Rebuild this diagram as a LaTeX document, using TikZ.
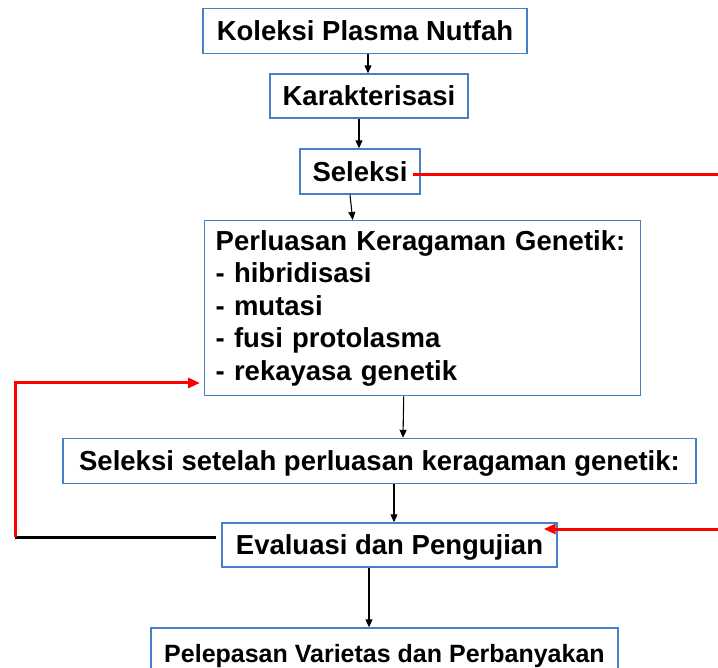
\documentclass[tikz,border=0pt]{standalone}
\usepackage{fontspec}
\setmainfont{Liberation Sans}
\usetikzlibrary{arrows.meta,calc}
\definecolor{boxblue}{RGB}{70,128,200}
\definecolor{flowred}{RGB}{255,0,0}
\begin{document}
\begin{tikzpicture}[x=1pt,y=-1pt,
  stepbox/.style={draw=boxblue, line width=1.4pt, fill=white, inner sep=0pt,
    font=\fontsize{27.5}{32.5}\selectfont\bfseries},
  oneline/.style={stepbox, text height=19.7pt, text depth=0pt},
  arr/.style={draw=black, line width=1.1pt, -{Triangle[length=8pt,width=7pt]}},
  redline/.style={draw=flowred, line width=3pt},
  redarr/.style={redline, -{Triangle[length=12pt,width=10pt]}},
  blackline/.style={draw=black, line width=3pt}]
\clip (0,0) rectangle (718,668);
\fill[white] (0,0) rectangle (718,668);

% process boxes
\node[oneline, minimum width=324pt, minimum height=45pt] (kol) at (365,31) {Koleksi Plasma Nutfah};
\node[oneline, minimum width=198pt, minimum height=44pt] (kar) at (369,96) {Karakterisasi};
\node[oneline, minimum width=120pt, minimum height=45pt] (sel) at (360,171.5) {Seleksi};
\node[stepbox, anchor=north west, text width=414pt, inner xsep=11pt, minimum height=175pt, align=left] (per) at (204,220)
  {Perluasan Keragaman Genetik:\\- hibridisasi\\- mutasi\\- fusi protolasma\\- rekayasa genetik};
\node[oneline, minimum width=633pt, minimum height=45pt] (sst) at (379.5,461) {Seleksi setelah perluasan keragaman genetik:};
\node[oneline, minimum width=335pt, minimum height=44pt] (eva) at (389.5,545) {Evaluasi dan Pengujian};
\node[oneline, font=\fontsize{25}{30}\selectfont\bfseries, text height=17.9pt,
  minimum width=467pt, minimum height=52pt] (pel) at (384.5,654) {Pelepasan Varietas dan Perbanyakan};

% main flow
\draw[arr] ($(kol.south)+(3,0)$) -- ($(kar.north)+(-1,0)$);
\draw[arr] ($(kar.south)+(-10,0)$) -- ($(sel.north)+(-1,0)$);
\draw[arr] ($(sel.south)+(-10,0)$) -- ($(per.north)+(-70,0)$);
\draw[arr] ($(per.south)+(-19,0)$) -- ($(sst.north)+(23.5,0)$);
\draw[arr] ($(sst.south)+(14.5,0)$) -- ($(eva.north)+(4.5,0)$);
\draw[arr] ($(eva.south)+(-20.5,0)$) -- ($(pel.north)+(-15.5,0)$);

% branch leaving the selection step
\coordinate (selout) at (725,175);
\draw[redline] ($(sel.east)+(-8,3.5)$) -- (selout);

% branch entering the evaluation step
\coordinate (evain) at (725,529);
\draw[redarr] (evain) -- ($(eva.east)+(-14,-16)$);

% feedback loop back to widening genetic diversity
\coordinate (lc) at (15,537);
\coordinate (tc) at (15,383);
\draw[blackline] ($(eva.west)+(-5,-8)$) -- (lc);
\draw[redarr] (lc) -- (tc) -- ($(tc -| per.west)+(-4,0)$);
\end{tikzpicture}
\end{document}
